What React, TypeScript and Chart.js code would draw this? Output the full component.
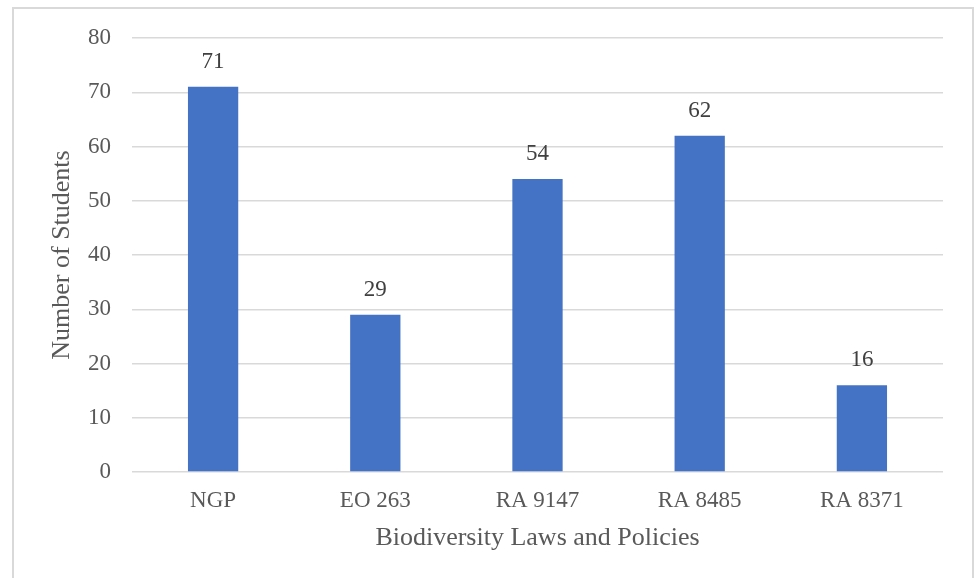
import React, { useEffect, useRef } from "react";
import { Chart, registerables } from "chart.js";

Chart.register(...registerables);

const categories = ["NGP", "EO 263", "RA 9147", "RA 8485", "RA 8371"];
const students = [71, 29, 54, 62, 16];
const yTicks = [0, 10, 20, 30, 40, 50, 60, 70, 80];

const FONT = "'Liberation Serif', 'Times New Roman', serif";

const dataLabelPlugin = {
  id: "dataLabels",
  afterDatasetsDraw(chart: any) {
    const ctx = chart.ctx;
    const meta = chart.getDatasetMeta(0);
    ctx.save();
    ctx.font = `23px ${FONT}`;
    ctx.fillStyle = "#404040";
    ctx.textAlign = "center";
    ctx.textBaseline = "middle";
    meta.data.forEach((el: any, i: number) => {
      ctx.fillText(String(students[i]), el.x, el.y - 25);
    });
    ctx.restore();
  },
};

export default function App() {
  const ref = useRef<HTMLCanvasElement | null>(null);
  useEffect(() => {
    if (!ref.current) return;
    const chart = new Chart(ref.current, {
      type: "bar",
      data: {
        labels: categories,
        datasets: [
          {
            data: students,
            backgroundColor: "#4472C4",
            barPercentage: 0.31,
            categoryPercentage: 1,
          },
        ],
      },
      options: {
        animation: false,
        responsive: true,
        maintainAspectRatio: false,
        layout: { padding: { left: 0, top: 38, right: 33, bottom: 0 } },
        plugins: { legend: { display: false }, tooltip: { enabled: false } },
        scales: {
          x: {
            grid: { display: false },
            border: { display: false },
            ticks: {
              color: "#595959",
              font: { family: FONT, size: 23 },
              padding: 7,
            },
            title: {
              display: true,
              text: "Biodiversity Laws and Policies",
              color: "#595959",
              font: { family: FONT, size: 26 },
              padding: { top: 24, bottom: 24 },
            },
            afterFit(scale: any) {
              scale.height = 106;
            },
          },
          y: {
            min: 0,
            max: 80,
            afterBuildTicks(scale: any) {
              scale.ticks = yTicks.map((v) => ({ value: v }));
            },
            grid: { color: "#d9d9d9", lineWidth: 1.5, drawTicks: false },
            border: { display: false },
            ticks: {
              color: "#595959",
              font: { family: FONT, size: 23 },
              padding: 21,
            },
            title: {
              display: true,
              text: "Number of Students",
              color: "#595959",
              font: { family: FONT, size: 26 },
              padding: { top: 47, bottom: 0 },
            },
            afterFit(scale: any) {
              scale.width = 132;
            },
          },
        },
      },
      plugins: [dataLabelPlugin],
    });
    return () => chart.destroy();
  }, []);

  return (
    <div
      style={{
        position: "absolute",
        left: 0,
        top: 0,
        width: 976,
        height: 578,
        overflow: "hidden",
        background: "#ffffff",
      }}
    >
      <div
        style={{
          position: "absolute",
          left: 12,
          top: 7,
          width: 958,
          height: 620,
          border: "2px solid #d9d9d9",
        }}
      />
      <div style={{ position: "absolute", left: 0, top: 0, width: 976, height: 578 }}>
        <canvas ref={ref} />
      </div>
    </div>
  );
}
